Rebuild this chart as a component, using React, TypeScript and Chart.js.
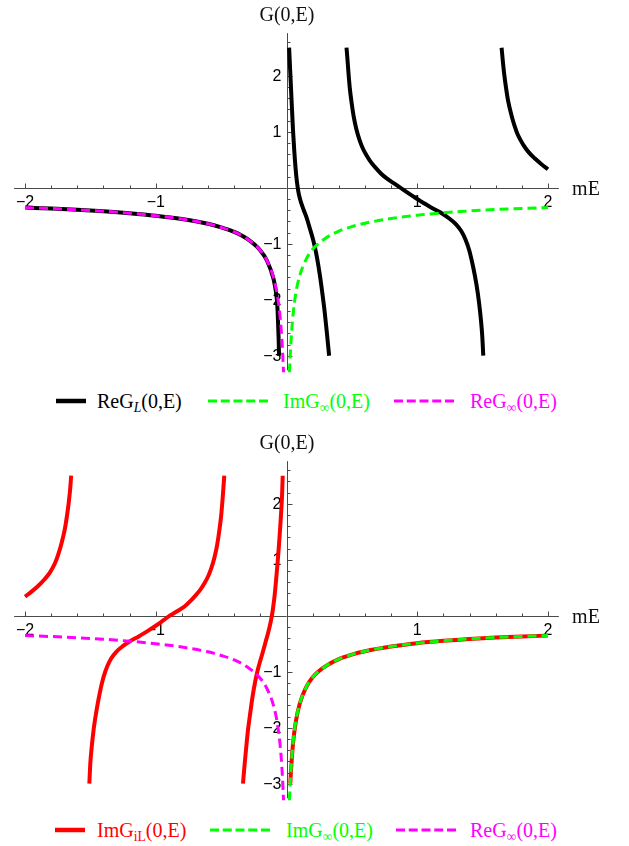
import React, { useEffect, useRef } from "react";
import { Chart, registerables } from "chart.js";
Chart.register(...registerables);

// ---------- data ----------
// ReG_inf(0,E) (E<0)
const reInfE = [-2, -1.8, -1.6, -1.4, -1.2, -1.0, -0.8, -0.6, -0.5, -0.4, -0.3, -0.2, -0.15, -0.1, -0.07, -0.05, -0.04, -0.031, -0.026, -0.0225];
const reInfV = [-0.355, -0.372, -0.393, -0.42, -0.455, -0.5, -0.56, -0.645, -0.71, -0.79, -0.915, -1.12, -1.3, -1.6, -1.92, -2.28, -2.55, -2.88, -3.12, -3.3];
// ImG_inf(0,E) (E>0)
const imInfE = [0.0225, 0.026, 0.031, 0.04, 0.05, 0.07, 0.1, 0.15, 0.2, 0.3, 0.4, 0.5, 0.6, 0.8, 1.0, 1.2, 1.4, 1.6, 1.8, 2.0];
const imInfV = [-3.3, -3.12, -2.88, -2.55, -2.27, -1.9, -1.58, -1.28, -1.1, -0.9, -0.775, -0.695, -0.635, -0.55, -0.49, -0.448, -0.415, -0.39, -0.372, -0.355];

// ReG_L(0,E), four branches
const reL0E = [-2, -1.8, -1.6, -1.4, -1.2, -1.0, -0.8, -0.6, -0.5, -0.4, -0.3, -0.2, -0.15, -0.1, -0.085, -0.074, -0.068, -0.064, -0.06, -0.057];
const reL0V = [-0.355, -0.372, -0.393, -0.42, -0.455, -0.5, -0.56, -0.645, -0.71, -0.79, -0.915, -1.12, -1.3, -1.62, -1.8, -1.99, -2.2, -2.45, -2.72, -3.0];
const reL1E = [0.02, 0.03, 0.04, 0.05, 0.06, 0.07, 0.08, 0.09, 0.1, 0.115, 0.13, 0.153, 0.175, 0.2, 0.217, 0.235, 0.255, 0.275, 0.293, 0.31, 0.326];
const reL1V = [2.5, 2.0, 1.5, 1.02, 0.64, 0.33, 0.1, -0.06, -0.17, -0.29, -0.39, -0.53, -0.7, -0.9, -1.06, -1.27, -1.56, -1.9, -2.24, -2.62, -3.0];
const reL2E = [0.459, 0.466, 0.474, 0.484, 0.499, 0.514, 0.534, 0.559, 0.584, 0.614, 0.644, 0.684, 0.724, 0.764, 0.82, 0.87, 0.92, 0.98, 1.045, 1.12, 1.19, 1.245, 1.295, 1.335, 1.368, 1.398, 1.428, 1.453, 1.472, 1.487, 1.497, 1.505];
const reL2V = [2.5, 2.3, 2.05, 1.78, 1.5, 1.27, 1.05, 0.85, 0.7, 0.57, 0.46, 0.35, 0.25, 0.17, 0.08, 0.0, -0.08, -0.17, -0.27, -0.37, -0.46, -0.55, -0.65, -0.77, -0.92, -1.12, -1.42, -1.73, -2.04, -2.36, -2.64, -3.0];
const reL3E = [1.645, 1.655, 1.665, 1.678, 1.695, 1.72, 1.745, 1.77, 1.81, 1.85, 1.9, 1.95, 2.0];
const reL3V = [2.5, 2.25, 2.03, 1.8, 1.55, 1.3, 1.1, 0.94, 0.77, 0.64, 0.52, 0.42, 0.33];

// ImG_iL(0,E), four branches
const imL0E = [-2.0, -1.95, -1.9, -1.85, -1.81, -1.77, -1.745, -1.72, -1.695, -1.678, -1.665, -1.655, -1.647];
const imL0V = [0.34, 0.43, 0.53, 0.65, 0.77, 0.94, 1.1, 1.3, 1.55, 1.8, 2.03, 2.25, 2.5];
const imL1E = [-1.508, -1.5, -1.49, -1.475, -1.455, -1.43, -1.4, -1.37, -1.34, -1.3, -1.25, -1.2, -1.13, -1.06, -1.0, -0.94, -0.893, -0.84, -0.78, -0.74, -0.7, -0.66, -0.63, -0.6, -0.575, -0.55, -0.53, -0.515, -0.5, -0.49, -0.482, -0.476];
const imL1V = [-3.0, -2.62, -2.35, -2.03, -1.72, -1.4, -1.1, -0.9, -0.76, -0.64, -0.54, -0.46, -0.37, -0.27, -0.18, -0.08, 0.0, 0.075, 0.165, 0.25, 0.35, 0.46, 0.57, 0.7, 0.85, 1.05, 1.27, 1.5, 1.78, 2.05, 2.3, 2.5];
const imL2E = [-0.333, -0.322, -0.31, -0.295, -0.278, -0.26, -0.24, -0.22, -0.2, -0.18, -0.16, -0.14, -0.12, -0.105, -0.09, -0.078, -0.067, -0.057, -0.048, -0.04, -0.034, -0.029];
const imL2V = [-3.0, -2.7, -2.4, -2.05, -1.75, -1.45, -1.18, -0.97, -0.8, -0.64, -0.47, -0.3, -0.1, 0.1, 0.38, 0.68, 0.98, 1.28, 1.58, 1.88, 2.15, 2.5];
const imL3E = [0.029, 0.033, 0.04, 0.05, 0.07, 0.1, 0.15, 0.2, 0.3, 0.4, 0.5, 0.6, 0.8, 1.0, 1.2, 1.4, 1.6, 1.8, 2.0];
const imL3V = [-3.0, -2.82, -2.57, -2.28, -1.91, -1.58, -1.28, -1.1, -0.9, -0.775, -0.695, -0.635, -0.55, -0.49, -0.448, -0.415, -0.39, -0.372, -0.355];

// ---------- axes ----------
const X_MIN = -2.1, X_MAX = 2.1, Y_MIN = -3.3, Y_MAX = 2.8;
const X_AXIS_FROM = -2.083, X_AXIS_TO = 2.083;
const Y_AXIS_FROM = -3.26, Y_AXIS_TO = 2.76;
const xTickValues = [-2, -1, 1, 2];
const xTickLabels = ["\u22122", "\u22121", "1", "2"];
const yTickValues = [-3, -2, -1, 1, 2];
const yTickLabels = ["\u22123", "\u22122", "\u22121", "1", "2"];

const CW = 629, CH = 380;
const PAD = { left: 11.93, right: 67.93, top: 30.9, bottom: 7.5 };

const SERIF = "'Liberation Serif', 'Times New Roman', serif";
const TICK_FONT = "16px Arial, sans-serif";

const axesPlugin = {
  id: "mmaAxes",
  beforeDatasetsDraw(chart: any) {
    const ctx: CanvasRenderingContext2D = chart.ctx;
    const xs = chart.scales.x, ys = chart.scales.y;
    const x0 = Math.round(xs.getPixelForValue(0)) + 0.5;
    const y0 = Math.round(ys.getPixelForValue(0)) + 0.5;
    ctx.save();
    ctx.strokeStyle = "#4a4a4a";
    ctx.lineWidth = 1;
    ctx.setLineDash([]);
    ctx.beginPath();
    ctx.moveTo(xs.getPixelForValue(X_AXIS_FROM), y0);
    ctx.lineTo(xs.getPixelForValue(X_AXIS_TO), y0);
    ctx.moveTo(x0, ys.getPixelForValue(Y_AXIS_TO));
    ctx.lineTo(x0, ys.getPixelForValue(Y_AXIS_FROM));
    for (let k = -10; k <= 10; k++) {
      if (k === 0) continue;
      const px = Math.round(xs.getPixelForValue(k / 5)) + 0.5;
      const len = k % 5 === 0 ? 5 : 3;
      ctx.moveTo(px, y0);
      ctx.lineTo(px, y0 - len);
    }
    for (let k = -16; k <= 13; k++) {
      if (k === 0) continue;
      const py = Math.round(ys.getPixelForValue(k / 5)) + 0.5;
      const len = k % 5 === 0 ? 5 : 3;
      ctx.moveTo(x0, py);
      ctx.lineTo(x0 + len, py);
    }
    ctx.stroke();
    ctx.fillStyle = "#000";
    ctx.font = TICK_FONT;
    ctx.textAlign = "center";
    ctx.textBaseline = "alphabetic";
    xTickValues.forEach((v, i) => {
      ctx.fillText(xTickLabels[i], xs.getPixelForValue(v), y0 + 18.5);
    });
    ctx.textAlign = "right";
    yTickValues.forEach((v, i) => {
      ctx.fillText(yTickLabels[i], x0 - 6, ys.getPixelForValue(v) + 5.7);
    });
    ctx.restore();
  },
};

function pts(E: number[], V: number[]) {
  return E.map((e, i) => ({ x: e, y: V[i] }));
}

function solid(E: number[], V: number[], color: string) {
  return {
    data: pts(E, V),
    borderColor: color,
    borderWidth: 4,
    pointRadius: 0,
    cubicInterpolationMode: "monotone",
    borderCapStyle: "butt",
    order: 2,
  };
}
function dashed(E: number[], V: number[], color: string) {
  return {
    data: pts(E, V),
    borderColor: color,
    borderWidth: 3,
    borderDash: [9, 5],
    pointRadius: 0,
    cubicInterpolationMode: "monotone",
    borderCapStyle: "butt",
    order: 1,
  };
}

type LegendItem = { sx: number; sw: number; color: string; dashed: boolean; tx: number; label: React.ReactNode };

const subStyle: React.CSSProperties = { fontSize: "0.68em", verticalAlign: "-0.28em", lineHeight: 0 };

function Panel({ top, height, datasets, legend, legendY }: { top: number; height: number; datasets: any[]; legend: LegendItem[]; legendY: number }) {
  const ref = useRef<HTMLCanvasElement>(null);
  useEffect(() => {
    const chart = new Chart(ref.current as HTMLCanvasElement, {
      type: "line",
      data: { datasets },
      options: {
        responsive: false,
        animation: false,
        layout: { padding: PAD },
        plugins: { legend: { display: false }, tooltip: { enabled: false } },
        scales: {
          x: { type: "linear", min: X_MIN, max: X_MAX, display: false },
          y: { type: "linear", min: Y_MIN, max: Y_MAX, display: false },
        },
      },
      plugins: [axesPlugin],
    } as any);
    return () => chart.destroy();
  }, []);
  return (
    <div style={{ position: "absolute", left: 0, top, width: CW, height, overflow: "hidden" }}>
      <canvas ref={ref} width={CW} height={CH} style={{ position: "absolute", left: 0, top: 0 }} />
      <div style={{ position: "absolute", left: 287, top: 14, transform: "translate(-50%,-50%)", font: `20px ${SERIF}`, whiteSpace: "nowrap", color: "#111" }}>G(0,E)</div>
      <div style={{ position: "absolute", left: 586, top: 188, transform: "translate(-50%,-50%)", font: `20px ${SERIF}`, whiteSpace: "nowrap", color: "#111" }}>mE</div>
      {legend.map((it, i) => (
        <React.Fragment key={i}>
          <svg style={{ position: "absolute", left: it.sx, top: legendY - 4 }} width={it.sw} height={8}>
            <line x1={0} y1={4} x2={it.sw} y2={4} stroke={it.color} strokeWidth={it.dashed ? 3.2 : 4.5} strokeDasharray={it.dashed ? "9 3.75" : undefined} />
          </svg>
          <div style={{ position: "absolute", left: it.tx, top: legendY, transform: "translateY(-50%)", font: `20px ${SERIF}`, color: it.color, whiteSpace: "nowrap", lineHeight: "24px" }}>{it.label}</div>
        </React.Fragment>
      ))}
    </div>
  );
}

export default function App() {
  const topSets = [
    dashed(reInfE, reInfV, "#ff00ff"),
    dashed(imInfE, imInfV, "#00ff00"),
    solid(reL0E, reL0V, "#000000"),
    solid(reL1E, reL1V, "#000000"),
    solid(reL2E, reL2V, "#000000"),
    solid(reL3E, reL3V, "#000000"),
  ];
  const bottomSets = [
    dashed(imInfE, imInfV, "#00ff00"),
    dashed(reInfE, reInfV, "#ff00ff"),
    solid(imL0E, imL0V, "#ff0000"),
    solid(imL1E, imL1V, "#ff0000"),
    solid(imL2E, imL2V, "#ff0000"),
    solid(imL3E, imL3V, "#ff0000"),
  ];
  const topLegend: LegendItem[] = [
    { sx: 56, sw: 30, color: "#000000", dashed: false, tx: 97, label: <>ReG<sub style={{ ...subStyle, fontStyle: "italic" }}>L</sub>(0,E)</> },
    { sx: 208, sw: 60, color: "#00ff00", dashed: true, tx: 283, label: <>ImG<sub style={subStyle}>∞</sub>(0,E)</> },
    { sx: 394, sw: 60, color: "#ff00ff", dashed: true, tx: 470, label: <>ReG<sub style={subStyle}>∞</sub>(0,E)</> },
  ];
  const bottomLegend: LegendItem[] = [
    { sx: 55, sw: 30, color: "#ff0000", dashed: false, tx: 97, label: <>ImG<sub style={subStyle}>iL</sub>(0,E)</> },
    { sx: 210, sw: 60, color: "#00ff00", dashed: true, tx: 286, label: <>ImG<sub style={subStyle}>∞</sub>(0,E)</> },
    { sx: 396, sw: 60, color: "#ff00ff", dashed: true, tx: 470, label: <>ReG<sub style={subStyle}>∞</sub>(0,E)</> },
  ];
  return (
    <div style={{ position: "absolute", left: 0, top: 0, width: CW, height: 846, background: "#fff", overflow: "hidden" }}>
      <Panel top={0} height={428} datasets={topSets} legend={topLegend} legendY={401} />
      <Panel top={428} height={418} datasets={bottomSets} legend={bottomLegend} legendY={402} />
    </div>
  );
}
